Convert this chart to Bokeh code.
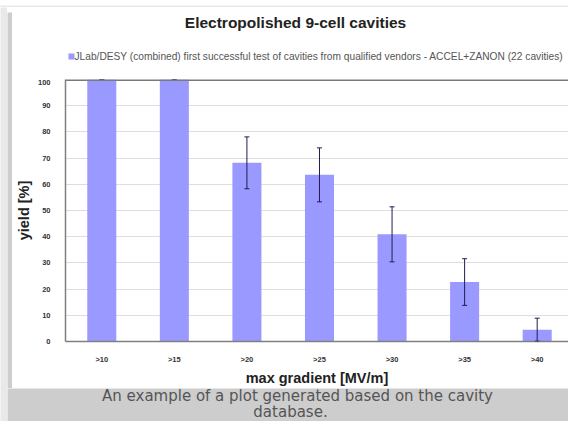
from bokeh.plotting import figure
from bokeh.layouts import column, row
from bokeh.models import (Range1d, ColumnDataSource, Whisker, TeeHead, Span,
                          Label, FixedTicker)
from bokeh.embed import file_html
from bokeh.resources import INLINE

# ---- data ----
categories = [">10", ">15", ">20", ">25", ">30", ">35", ">40"]
yield_pct = [100, 100, 68.2, 63.6, 40.9, 22.7, 4.5]
yield_err = [0, 0, 9.9, 10.3, 10.5, 8.9, 4.4]
y_ticks = [0, 10, 20, 30, 40, 50, 60, 70, 80, 90, 100]

title_text = "Electropolished 9-cell cavities"
series_name = ("JLab/DESY (combined) first successful test of cavities from "
               "qualified vendors - ACCEL+ZANON (22 cavities)")
x_title = "max gradient [MV/m]"
y_title = "yield [%]"
caption_lines = ["An example of a plot generated based on the cavity", "database."]

x_pos = [i + 0.5 for i in range(len(categories))]
lower = [v - e for v, e in zip(yield_pct, yield_err)]
upper = [v + e for v, e in zip(yield_pct, yield_err)]
src = ColumnDataSource(dict(x=x_pos, top=yield_pct, lower=lower, upper=upper))

# ---- layout constants ----
LIGHT = "#e9e9e9"
GRAY = "#cdcdcd"
BAR = "#9999ff"
FULL_W, FULL_H = 568, 421
OUT = 7            # light page margin
PAD = 5            # gray frame
CH_W = 556         # white chart panel width
HEAD_H = 67        # title + legend band
PLOT_H = 309       # plot area + axes
CAP_H = FULL_H - OUT - PAD - HEAD_H - PLOT_H
MB_LEFT, MB_BOTTOM = 50, 47
CAT_PX = 73.0
X_END = (CH_W - MB_LEFT) / CAT_PX
KEY_X, KEY_Y = 56, 44   # legend key position inside the header (pixels)


def strip(w, h, color):
    f = figure(width=w, height=h, output_backend="svg", toolbar_location=None,
               x_axis_location=None, y_axis_location=None, min_border=0,
               x_range=Range1d(0, 1), y_range=Range1d(0, 1),
               background_fill_color=color, border_fill_color=color,
               outline_line_color=None)
    f.grid.visible = False
    return f


# ---- main plot ----
p = figure(width=CH_W, height=PLOT_H, x_range=Range1d(0, X_END),
           y_range=Range1d(y_ticks[0], y_ticks[-1]), output_backend="svg",
           toolbar_location=None, min_border_left=MB_LEFT, min_border_right=0,
           min_border_top=0, min_border_bottom=MB_BOTTOM,
           background_fill_color="white", border_fill_color="white",
           outline_line_color=None)

bars = p.vbar(x="x", top="top", width=0.4, source=src,
              fill_color=BAR, line_color=None)

err_col = "#1e1e50"
p.add_layout(Whisker(source=src, base="x", lower="lower", upper="upper",
                     line_color=err_col, line_width=1,
                     upper_head=TeeHead(size=5, line_color=err_col, line_width=1),
                     lower_head=TeeHead(size=5, line_color=err_col, line_width=1),
                     level="annotation"))

# top edge of the plot area
p.add_layout(Span(location=y_ticks[-1], dimension="width",
                  line_color="#7a7a7a", line_width=3, level="annotation"))

yt = FixedTicker(ticks=y_ticks)
p.yaxis.ticker = yt
p.ygrid.ticker = yt
p.ygrid.grid_line_color = "#dedede"
p.xgrid.grid_line_color = None
p.xaxis.ticker = FixedTicker(ticks=x_pos)
p.xaxis.major_label_overrides = {x: c for x, c in zip(x_pos, categories)}
for ax in (p.xaxis, p.yaxis):
    ax.axis_line_color = "#808080"
    ax.axis_line_width = 1.5
    ax.major_tick_line_color = None
    ax.minor_tick_line_color = None
    ax.major_label_text_font_size = "7.5px"
    ax.major_label_text_font_style = "bold"
    ax.major_label_text_color = "#333333"
    ax.major_label_text_font = "Liberation Sans"
    ax.axis_label_text_font = "Liberation Sans"
    ax.axis_label_text_font_size = "14.5px"
    ax.axis_label_text_font_style = "bold"
    ax.axis_label_text_color = "#222222"
p.xaxis.axis_label = x_title
p.yaxis.axis_label = y_title
p.xaxis.major_label_standoff = 7
p.xaxis.axis_label_standoff = 3
p.yaxis.major_label_standoff = 9
p.yaxis.axis_label_standoff = 3

# ---- header: title + legend key ----
head = strip(CH_W, HEAD_H, "white")
head.min_border_left = MB_LEFT          # frame aligned with the plot's frame
head.x_range = Range1d(MB_LEFT, CH_W)   # data units == canvas pixels
head.y_range = Range1d(HEAD_H, 0)
head.scatter(x=[KEY_X], y=[KEY_Y], marker="square", size=6,
             fill_color=BAR, line_color=None)
head.add_layout(Label(x=KEY_X + 6, y=KEY_Y, x_units="canvas", y_units="canvas",
                      text=series_name, text_align="left", text_baseline="middle",
                      text_font="Liberation Sans", text_font_size="10.2px",
                      text_color="#555555"))
head.add_layout(Label(x=283, y=10, x_units="canvas", y_units="canvas",
                      text=title_text, text_align="center", text_baseline="middle",
                      text_font="Liberation Sans", text_font_size="15.5px",
                      text_font_style="bold", text_color="#222222"))

# ---- caption panel ----
cap = strip(FULL_W - OUT, CAP_H, GRAY)
for txt, cx, cy in zip(caption_lines, [290, 283], [7, 23.5]):
    cap.add_layout(Label(x=cx, y=cy, x_units="canvas", y_units="canvas",
                         text=txt, text_align="center", text_baseline="middle",
                         text_font="DejaVu Sans", text_font_size="15px",
                         text_color="#555555"))

panel = column(head, p, spacing=0)
inner = column(strip(FULL_W - OUT, PAD, GRAY),
               row(strip(PAD, HEAD_H + PLOT_H, GRAY), panel, spacing=0),
               cap, spacing=0)
layout = column(strip(FULL_W, OUT, LIGHT),
                row(strip(OUT, FULL_H - OUT, LIGHT), inner, spacing=0),
                spacing=0)

open("out.html", "w").write(file_html(layout, INLINE))
